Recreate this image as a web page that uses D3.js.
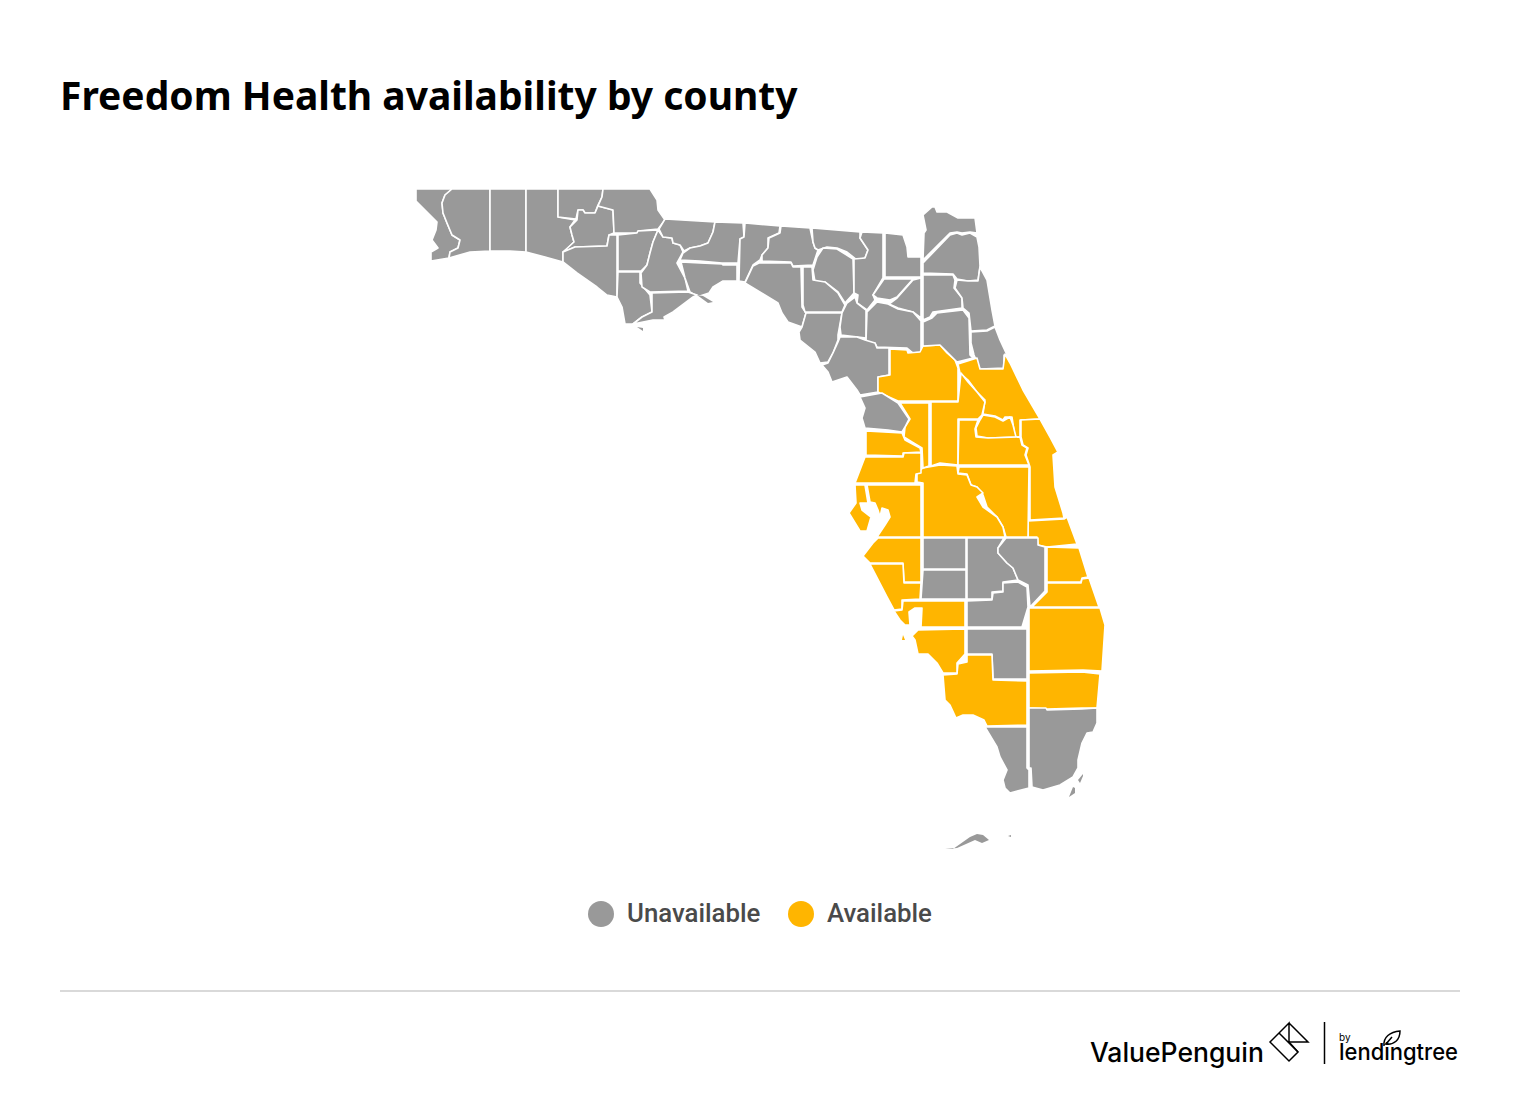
<!DOCTYPE html>
<html>
  <head>
    <meta charset="utf-8" />
    <script src="https://cdn.jsdelivr.net/npm/d3@7"></script>
    <style>
      body {
        margin: 0;
        background: #fff;
      }
      .title {
        font: 700 39px 'Noto Sans', sans-serif;
        fill: #000;
      }
      .county {
        stroke: #fff;
        stroke-width: 1.6;
        stroke-linejoin: round;
      }
      .legendText {
        font: 500 25.8px Roboto, sans-serif;
        fill: #4a4a4a;
      }
      .logo path,
      .logo line {
        fill: none;
        stroke: #000;
        stroke-width: 1.5;
      }
    </style>
  </head>
  <body>
    <svg id="chart" width="1520" height="1100"></svg>

    <script type="text/javascript">
      var titleText = 'Freedom Health availability by county';
      var statusLevels = ['Unavailable', 'Available'];
      var statusColors = ['#999999', '#ffb500'];

      var availableCounties = [
        'Marion', 'Volusia', 'Lake', 'Seminole', 'Orange', 'Brevard', 'Indian River', 'Osceola', 'Polk',
        'Sumter', 'Hernando', 'Pasco', 'Pinellas', 'Hillsborough', 'Manatee', 'Sarasota', 'St. Lucie',
        'Martin', 'Palm Beach', 'Broward', 'Collier', 'Lee', 'Charlotte'
      ];

      // county outlines, west to east then south
      var countyOutlines = {
        'Escambia': [[416,189],[452,189],[445,195],[442,203],[443,213],[447,223],[452,235],[460,240],[458,248],[450,252],[449,258],[431,261],[431,252],[438,248],[432,240],[436,230],[437,222],[425,210],[416,201]],
        'Santa Rosa': [[452,189],[490,189],[490,251],[470,252],[449,258],[450,252],[458,248],[460,240],[452,235],[447,223],[443,213],[442,203],[445,195]],
        'Okaloosa': [[490,189],[526,189],[526,252],[510,251],[490,251]],
        'Walton': [[526,189],[558,189],[558,217],[575,220],[570,227],[572,235],[574,242],[568,248],[563,252],[563,262],[545,257],[526,252]],
        'Holmes': [[558,189],[603,189],[602,197],[598,205],[595,213],[585,213],[583,210],[578,210],[576,219],[558,217]],
        'Washington': [[577,220],[578,210],[583,210],[585,213],[595,213],[598,206],[613,210],[614,233],[609,235],[607,246],[575,247],[563,252],[574,242],[572,235],[570,227]],
        'Jackson': [[603,189],[650,189],[657,200],[658,210],[665,220],[658,229],[638,231],[637,233],[614,233],[613,210],[598,206],[602,197]],
        'Bay': [[563,262],[563,252],[575,247],[607,246],[609,235],[617,235],[617,297],[607,295],[597,287],[577,273]],
        'Calhoun': [[618,235],[637,233],[638,231],[658,230],[653,242],[650,253],[647,265],[641,271],[618,271]],
        'Gulf': [[618,272],[640,272],[640,283],[650,295],[652,312],[642,317],[633,324],[625,324],[622,307],[617,297]],
        'Liberty': [[658,230],[663,237],[672,238],[673,243],[680,245],[683,252],[677,263],[685,278],[688,291],[650,292],[642,287],[641,273],[647,265],[650,253],[653,242]],
        'Gadsden': [[665,219],[715,222],[713,232],[708,243],[700,246],[690,248],[684,251],[680,245],[673,243],[672,238],[663,237],[659,229]],
        'Leon': [[715,222],[743,223],[744,237],[740,239],[738,263],[722,263],[700,261],[680,260],[683,253],[690,248],[700,246],[708,243],[713,232]],
        'Wakulla': [[681,262],[700,263],[722,264],[723,265],[737,265],[737,281],[723,281],[713,287],[709,293],[700,296],[695,295],[690,292],[685,278]],
        'Franklin': [[652,293],[688,292],[697,295],[693,297],[673,312],[664,317],[665,320],[653,320],[633,324],[642,317],[652,312]],
        'Jefferson': [[745,223],[780,226],[779,233],[768,238],[768,248],[762,255],[760,260],[753,265],[745,282],[739,281],[740,239],[744,237]],
        'Madison': [[781,226],[810,228],[813,242],[815,248],[818,250],[813,265],[793,266],[791,262],[762,261],[762,255],[768,248],[769,238],[780,233]],
        'Taylor': [[759,263],[791,263],[793,267],[801,267],[802,307],[806,313],[802,327],[788,322],[782,313],[778,303],[745,283],[753,266]],
        'Hamilton': [[812,228],[860,232],[860,238],[868,250],[865,258],[857,260],[847,252],[837,248],[827,247],[818,250],[815,248],[813,242]],
        'Suwannee': [[823,248],[837,249],[853,259],[854,293],[845,303],[838,292],[825,282],[815,282],[813,270],[817,257]],
        'Lafayette': [[803,267],[812,267],[813,280],[825,282],[838,293],[845,305],[842,312],[805,312],[803,305]],
        'Dixie': [[806,313],[842,313],[838,335],[838,340],[833,353],[828,362],[820,363],[815,352],[800,340],[799,332],[802,327]],
        'Columbia': [[862,232],[883,233],[883,278],[873,295],[875,300],[867,310],[857,303],[858,295],[854,293],[854,259],[865,258],[868,250],[860,238]],
        'Baker': [[885,233],[903,235],[907,247],[908,257],[921,257],[921,277],[885,277]],
        'Union': [[884,279],[913,279],[905,288],[897,297],[890,300],[877,298],[873,295]],
        'Bradford': [[913,280],[921,278],[921,318],[913,312],[898,308],[889,304],[897,298],[905,289]],
        'Gilchrist': [[847,303],[855,297],[857,303],[866,310],[866,338],[858,337],[841,335],[840,327],[842,313]],
        'Alachua': [[867,312],[877,302],[888,304],[898,309],[913,312],[921,321],[921,352],[913,353],[907,348],[877,347],[875,343],[866,342]],
        'Levy': [[840,337],[857,337],[865,340],[875,343],[877,348],[889,348],[889,375],[878,377],[878,392],[860,395],[857,390],[847,377],[832,382],[828,372],[822,365],[828,363],[833,353],[838,342]],
        'Marion': [[890,349],[907,350],[908,353],[920,352],[923,346],[940,345],[947,353],[955,360],[958,368],[958,401],[898,401],[880,393],[878,392],[878,377],[890,375]],
        'Nassau': [[923,215],[932,207],[935,207],[937,212],[947,212],[958,218],[975,218],[977,233],[970,232],[962,233],[957,232],[950,233],[923,260],[924,233],[926,230]],
        'Duval': [[923,263],[950,235],[957,233],[962,235],[970,233],[977,237],[979,247],[980,266],[978,280],[968,281],[957,279],[953,274],[923,273]],
        'Clay': [[923,275],[953,275],[955,280],[954,288],[962,298],[962,308],[933,312],[930,317],[923,320]],
        'St. Johns': [[980,267],[987,280],[992,310],[995,326],[987,330],[971,331],[969,313],[963,308],[962,298],[955,288],[957,280],[968,281],[978,281]],
        'Putnam': [[923,322],[932,318],[937,313],[963,310],[969,318],[970,355],[973,358],[957,362],[955,360],[947,352],[940,345],[923,346]],
        'Flagler': [[971,332],[987,331],[995,327],[1000,340],[1007,355],[1004,355],[1004,368],[980,369],[974,355],[971,343]],
        'Volusia': [[958,364],[977,358],[980,369],[1003,369],[1005,354],[1010,363],[1023,390],[1040,419],[1020,420],[1020,437],[1015,437],[1012,417],[1005,417],[1003,420],[995,416],[983,414],[985,400],[977,392],[968,380],[960,373]],
        'Lake': [[931,402],[958,402],[961,373],[968,382],[977,392],[985,402],[982,415],[978,419],[958,419],[958,465],[940,463],[931,466]],
        'Seminole': [[983,415],[995,417],[1003,421],[1010,417],[1013,425],[1016,437],[988,438],[977,436],[976,428],[980,420]],
        'Orange': [[959,420],[978,420],[975,429],[976,437],[988,438],[1020,437],[1022,445],[1027,448],[1025,455],[1029,465],[958,465]],
        'Brevard': [[1021,420],[1040,419],[1050,437],[1058,452],[1053,455],[1055,487],[1063,513],[1064,518],[1030,520],[1030,467],[1026,455],[1028,448],[1023,445],[1021,437]],
        'Indian River': [[1028,521],[1064,519],[1067,517],[1077,544],[1047,547],[1038,545],[1037,537],[1028,537]],
        'Osceola': [[959,467],[1029,467],[1028,537],[1006,537],[1003,527],[997,517],[987,507],[983,495],[977,487],[971,485],[967,474],[958,473]],
        'Polk': [[923,468],[940,465],[957,466],[958,474],[967,475],[971,485],[977,487],[983,493],[977,497],[983,507],[997,517],[1003,527],[1005,537],[923,537],[923,483],[917,482],[917,473]],
        'Sumter': [[908,403],[929,403],[929,466],[923,468],[922,448],[912,442],[904,437],[905,427],[910,419],[900,403]],
        'Citrus': [[860,397],[882,393],[898,403],[909,419],[905,427],[902,432],[888,430],[865,428],[862,418],[865,408]],
        'Hernando': [[866,431],[902,433],[905,440],[920,448],[921,452],[903,453],[903,456],[866,455]],
        'Pasco': [[865,457],[903,457],[904,453],[921,453],[921,473],[916,474],[915,483],[855,483]],
        'Pinellas': [[855,485],[865,485],[868,503],[860,503],[862,510],[871,517],[867,531],[860,531],[849,513],[856,503]],
        'Hillsborough': [[867,485],[921,485],[921,537],[877,537],[885,525],[890,517],[888,510],[882,508],[880,517],[878,510],[875,503],[870,502]],
        'Manatee': [[878,538],[921,538],[921,582],[904,582],[903,563],[870,563],[863,556],[873,543]],
        'Sarasota': [[870,564],[903,564],[904,583],[921,583],[920,599],[902,600],[902,609],[894,610],[887,597]],
        'Hardee': [[923,538],[966,538],[966,569],[923,569]],
        'DeSoto': [[923,570],[966,570],[966,599],[921,599]],
        'Highlands': [[967,538],[1004,538],[998,548],[998,553],[1007,563],[1013,568],[1018,580],[1003,582],[1003,591],[992,592],[992,599],[967,599]],
        'Okeechobee': [[1006,538],[1038,538],[1038,545],[1045,547],[1045,591],[1030,607],[1028,585],[1018,580],[1013,568],[1007,563],[998,553],[998,548]],
        'Glades': [[1003,583],[1018,582],[1027,587],[1028,607],[1022,627],[967,627],[967,601],[992,600],[993,593],[1003,592]],
        'Hendry': [[967,629],[1022,629],[1027,629],[1027,679],[993,679],[992,654],[967,654]],
        'St. Lucie': [[1047,547],[1079,548],[1088,577],[1082,578],[1081,582],[1047,582]],
        'Martin': [[1047,583],[1081,583],[1082,579],[1089,578],[1099,607],[1032,607],[1047,592]],
        'Palm Beach': [[1029,608],[1100,608],[1105,625],[1102,671],[1083,670],[1029,671]],
        'Broward': [[1029,673],[1082,672],[1100,674],[1097,708],[1082,708],[1047,709],[1029,708]],
        'Miami-Dade': [[1029,708],[1046,708],[1047,710],[1082,709],[1097,708],[1097,723],[1093,732],[1087,733],[1082,743],[1078,760],[1078,768],[1073,777],[1060,785],[1043,790],[1032,787],[1031,768],[1029,768]],
        'Monroe': [[985,727],[1027,727],[1027,768],[1029,770],[1029,788],[1010,793],[1005,788],[1003,780],[1007,770],[1000,757],[997,747]],
        'Collier': [[943,675],[957,674],[958,664],[967,662],[967,655],[992,655],[993,680],[1027,681],[1027,725],[987,726],[984,720],[973,715],[963,715],[956,718],[950,705],[945,700]],
        'Lee': [[918,630],[965,629],[965,654],[957,663],[957,673],[943,673],[937,663],[928,654],[918,654],[915,640],[912,636]],
        'Charlotte': [[903,601],[965,601],[965,627],[921,627],[922,608],[915,608],[909,612],[910,625],[905,625],[900,620],[894,611],[902,610]]
      };

      // keys and barrier islands, too thin to carry the white county stroke
      var islandOutlines = [
        { county: 'Monroe', ring: [[945,849],[953,849],[970,837],[977,834],[983,835],[989,840],[982,843],[975,840],[957,848]] },
        { county: 'Monroe', ring: [[1008,836],[1011,835],[1011,837]] },
        { county: 'Monroe', ring: [[1069,797],[1073,787],[1075,788],[1075,793]] },
        { county: 'Monroe', ring: [[1078,780],[1083,774],[1083,776],[1080,783]] },
        { county: 'Franklin', ring: [[637,327],[643,328],[643,331]] },
        { county: 'Franklin', ring: [[697,295],[703,296],[713,302],[708,303]] },
        { county: 'Lee', ring: [[903,635],[905,640],[902,640]] }
      ];

      var svg = d3.select('#chart');
      var colorScale = d3.scaleOrdinal().domain(statusLevels).range(statusColors);

      function statusOf(county) {
        return availableCounties.indexOf(county) >= 0 ? 'Available' : 'Unavailable';
      }

      function toFeature(name, ring) {
        return {
          type: 'Feature',
          properties: { name: name, status: statusOf(name) },
          geometry: { type: 'Polygon', coordinates: [ring.concat([ring[0]])] }
        };
      }

      var countyFeatures = Object.keys(countyOutlines).map(function (name) {
        return toFeature(name, countyOutlines[name]);
      });
      var islandFeatures = islandOutlines.map(function (d) {
        return toFeature(d.county, d.ring);
      });

      // outlines are planar already, so the projection only has to fit them
      var projection = d3.geoIdentity().fitExtent(
        [[416, 189], [1105, 849]],
        { type: 'FeatureCollection', features: countyFeatures.concat(islandFeatures) }
      );
      var mapPath = d3.geoPath().projection(projection);

      svg.append('text').attr('class', 'title').attr('x', 60).attr('y', 110).text(titleText);

      svg
        .append('g')
        .selectAll('path')
        .data(countyFeatures)
        .enter()
        .append('path')
        .attr('class', 'county')
        .attr('d', mapPath)
        .attr('fill', function (d) {
          return colorScale(d.properties.status);
        });

      svg
        .append('g')
        .selectAll('path')
        .data(islandFeatures)
        .enter()
        .append('path')
        .attr('d', mapPath)
        .attr('fill', function (d) {
          return colorScale(d.properties.status);
        });

      // legend
      var legendX = d3.scaleOrdinal().domain(statusLevels).range([601, 801]);
      var legend = svg
        .append('g')
        .selectAll('g')
        .data(statusLevels)
        .enter()
        .append('g')
        .attr('transform', function (d) {
          return 'translate(' + legendX(d) + ',914)';
        });
      legend.append('circle').attr('r', 13).attr('fill', function (d) {
        return colorScale(d);
      });
      legend
        .append('text')
        .attr('class', 'legendText')
        .attr('x', 26)
        .attr('y', 8)
        .text(function (d) {
          return d;
        });

      // footer rule
      svg
        .append('line')
        .attr('x1', 60)
        .attr('x2', 1460)
        .attr('y1', 991)
        .attr('y2', 991)
        .attr('stroke', '#d9d9d9')
        .attr('stroke-width', 2);

      // logo
      var logo = svg.append('g').attr('class', 'logo');
      logo
        .append('text')
        .attr('x', 1090)
        .attr('y', 1062)
        .attr('font-family', 'Inter, sans-serif')
        .attr('font-size', 26.5)
        .attr('font-weight', 500)
        .attr('fill', '#000')
        .text('ValuePenguin');
      logo.append('path').attr('d', 'M1289 1023L1308 1042H1289V1023L1270 1042L1289 1061L1298 1052L1279 1033');
      logo.append('path').attr('d', 'M1289 1042L1298 1052');
      logo.append('line').attr('x1', 1324.5).attr('x2', 1324.5).attr('y1', 1022).attr('y2', 1064);
      logo
        .append('text')
        .attr('x', 1339)
        .attr('y', 1041)
        .attr('font-family', 'Inter, sans-serif')
        .attr('font-size', 10)
        .attr('fill', '#000')
        .text('by');
      logo
        .append('text')
        .attr('x', 1339)
        .attr('y', 1060)
        .attr('font-family', 'Inter, sans-serif')
        .attr('font-size', 23)
        .attr('font-weight', 500)
        .attr('textLength', 119)
        .attr('lengthAdjust', 'spacingAndGlyphs')
        .attr('fill', '#000')
        .text('lendingtree');
      logo
        .append('path')
        .attr('d', 'M1384 1046C1383 1037 1390 1032 1400 1031C1400 1040 1394 1045 1386 1044L1392 1037')
        .attr('stroke-width', 2.2);
    </script>
  </body>
</html>
